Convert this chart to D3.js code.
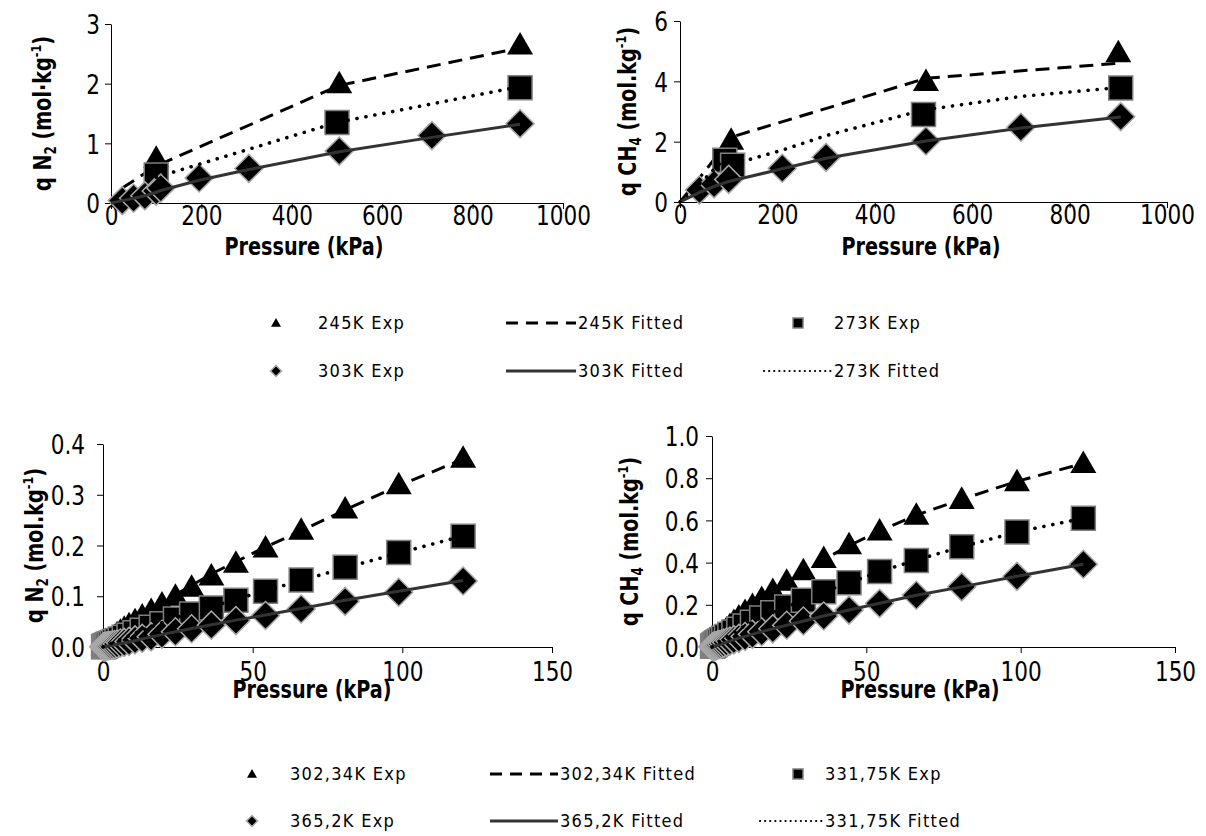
<!DOCTYPE html>
<html>
<head>
<meta charset="utf-8">
<script src="https://cdn.jsdelivr.net/npm/d3@7"></script>
<style>
  body { margin: 0; background: #fff; }
  .tick text { font-family: "DejaVu Sans", sans-serif; font-size: 27px; fill: #000; }
  .title { font-family: "DejaVu Sans", sans-serif; font-weight: bold; font-size: 24px; fill: #000; }
  .leg { font-family: "DejaVu Sans Condensed", "DejaVu Sans", sans-serif; font-size: 18px; letter-spacing: 1.3px; fill: #000; }
</style>
</head>
<body>
<div id="viz"></div>
<script>
// ---- data: top row (high pressure) ----
const n2Exp245 = [[100, 0.75], [505, 2.0], [905, 2.65]];
const n2Fit245 = [[25, 0.25], [100, 0.62], [505, 1.97], [905, 2.6]];
const n2Exp273 = [[100, 0.47], [500, 1.35], [905, 1.93]];
const n2Fit273 = [[100, 0.43], [200, 0.66], [500, 1.35], [905, 1.95]];
const n2Exp303 = [[25, 0.04], [50, 0.08], [75, 0.12], [100, 0.2], [110, 0.25], [195, 0.42], [305, 0.58], [505, 0.87], [710, 1.13], [905, 1.33]];
const n2Fit303 = [[0, 0], [25, 0.04], [50, 0.08], [75, 0.12], [100, 0.18], [110, 0.21], [195, 0.38], [305, 0.56], [505, 0.86], [710, 1.1], [905, 1.32]];

const ch4Exp245 = [[105, 2.05], [505, 4.0], [900, 4.95]];
const ch4Fit245 = [[0, 0], [55, 1.1], [105, 2.15], [505, 4.1], [900, 4.6]];
const ch4Exp273 = [[92, 1.38], [108, 1.22], [500, 2.9], [905, 3.78]];
const ch4Fit273 = [[0, 0], [50, 0.75], [92, 1.45], [108, 1.25], [210, 1.72], [300, 2.2], [500, 3.05], [700, 3.5], [905, 3.8]];
const ch4Exp303 = [[40, 0.4], [70, 0.6], [100, 0.75], [210, 1.12], [300, 1.48], [505, 2.02], [700, 2.48], [905, 2.83]];
const ch4Fit303 = [[0, 0], [40, 0.32], [70, 0.52], [100, 0.68], [210, 1.1], [300, 1.45], [505, 2.02], [700, 2.45], [905, 2.82]];

// ---- data: bottom row (low pressure) ----
const lowP = [0.2, 0.4, 0.6, 0.8, 1.0, 1.3, 1.6, 2.0, 2.5, 3.1, 3.8, 4.7, 5.8, 7.1, 8.7, 10.7, 13.1, 16.1, 19.7, 24.2, 29.6, 36.2, 44.4, 54.3, 66.2, 80.9, 98.8, 120.3];
const qN2_302 = [0.001, 0.002, 0.003, 0.004, 0.006, 0.007, 0.009, 0.011, 0.014, 0.017, 0.021, 0.026, 0.031, 0.037, 0.044, 0.052, 0.061, 0.072, 0.085, 0.100, 0.118, 0.140, 0.165, 0.195, 0.230, 0.272, 0.320, 0.372];
const qN2_331 = [0.0005, 0.001, 0.002, 0.0025, 0.003, 0.004, 0.005, 0.006, 0.007, 0.009, 0.011, 0.013, 0.016, 0.019, 0.023, 0.028, 0.033, 0.039, 0.046, 0.055, 0.065, 0.077, 0.092, 0.110, 0.132, 0.157, 0.186, 0.218];
const qN2_365 = [0.0003, 0.0005, 0.0008, 0.0011, 0.0014, 0.0018, 0.0022, 0.0027, 0.003, 0.004, 0.005, 0.006, 0.008, 0.009, 0.011, 0.014, 0.017, 0.020, 0.025, 0.030, 0.036, 0.043, 0.052, 0.062, 0.075, 0.090, 0.108, 0.130];
const qCH4_302 = [0.005, 0.010, 0.014, 0.018, 0.023, 0.028, 0.034, 0.041, 0.050, 0.060, 0.072, 0.086, 0.102, 0.121, 0.143, 0.168, 0.197, 0.230, 0.268, 0.312, 0.362, 0.420, 0.485, 0.550, 0.625, 0.700, 0.783, 0.870];
const qCH4_331 = [0.003, 0.006, 0.008, 0.010, 0.013, 0.016, 0.020, 0.024, 0.029, 0.035, 0.042, 0.050, 0.060, 0.071, 0.084, 0.099, 0.117, 0.138, 0.162, 0.190, 0.222, 0.262, 0.305, 0.358, 0.410, 0.475, 0.545, 0.610];
const qCH4_365 = [0.001, 0.002, 0.003, 0.004, 0.005, 0.006, 0.008, 0.010, 0.012, 0.015, 0.019, 0.023, 0.028, 0.034, 0.041, 0.050, 0.060, 0.072, 0.086, 0.103, 0.123, 0.147, 0.175, 0.207, 0.245, 0.285, 0.335, 0.392];

const lowFitP = [0, 8.7, 16.1, 24.2, 36.2, 44.4, 54.3, 66.2, 80.9, 98.8, 120.3];
const fitN2_302 = [0, 0.043, 0.074, 0.103, 0.144, 0.168, 0.197, 0.229, 0.270, 0.318, 0.370];
const fitN2_331 = [0, 0.022, 0.040, 0.058, 0.079, 0.094, 0.111, 0.131, 0.156, 0.185, 0.219];
const fitN2_365 = [0, 0.010, 0.020, 0.030, 0.044, 0.053, 0.063, 0.076, 0.092, 0.110, 0.131];
const fitCH4_302 = [0, 0.15, 0.23, 0.31, 0.415, 0.48, 0.55, 0.625, 0.70, 0.785, 0.87];
const fitCH4_331 = [0, 0.085, 0.14, 0.19, 0.262, 0.305, 0.357, 0.412, 0.475, 0.545, 0.61];
const fitCH4_365 = [0, 0.042, 0.073, 0.103, 0.147, 0.175, 0.207, 0.245, 0.285, 0.335, 0.392];

const xTicksHigh = [0, 200, 400, 600, 800, 1000];
const xTicksLow = [0, 50, 100, 150];

const legendTop = ["245K Exp", "245K Fitted", "273K Exp", "303K Exp", "303K Fitted", "273K Fitted"];
const legendBottom = ["302,34K Exp", "302,34K Fitted", "331,75K Exp", "365,2K Exp", "365,2K Fitted", "331,75K Fitted"];

const zip = (xs, ys) => xs.map((x, i) => [x, ys[i]]);

const svg = d3.select("#viz").append("svg")
    .attr("width", 1206)
    .attr("height", 836);

const panels = [
  {x: [111, 563], y: [203, 24], xd: [0, 1000], yd: [0, 3], xt: xTicksHigh, yt: [0, 1, 2, 3], fmt: d3.format("d"),
   gas: "N", sub: "2", dot: "·", ytx: 43, xtc: 304, xty: 255, xpad: -3, ypad: 5,
   series: [n2Exp245, n2Fit245, n2Exp273, n2Exp303, n2Fit303, n2Fit273]},
  {x: [680, 1167], y: [202, 21], xd: [0, 1000], yd: [0, 6], xt: xTicksHigh, yt: [0, 2, 4, 6], fmt: d3.format("d"),
   gas: "CH", sub: "4", dot: ".", ytx: 628, xtc: 921, xty: 255, xpad: -3, ypad: 6,
   series: [ch4Exp245, ch4Fit245, ch4Exp273, ch4Exp303, ch4Fit303, ch4Fit273]},
  {x: [103, 552], y: [647, 444], xd: [0, 150], yd: [0, 0.4], xt: xTicksLow, yt: [0, 0.1, 0.2, 0.3, 0.4], fmt: d3.format(".1f"),
   gas: "N", sub: "2", dot: ".", ytx: 35, xtc: 312, xty: 698, xpad: 9, ypad: 12,
   series: [zip(lowP, qN2_302), zip(lowFitP, fitN2_302), zip(lowP, qN2_331), zip(lowP, qN2_365), zip(lowFitP, fitN2_365), zip(lowFitP, fitN2_331)]},
  {x: [712, 1175], y: [647, 436], xd: [0, 150], yd: [0, 1], xt: xTicksLow, yt: [0, 0.2, 0.4, 0.6, 0.8, 1.0], fmt: d3.format(".1f"),
   gas: "CH", sub: "4", dot: ".", ytx: 630, xtc: 920, xty: 698, xpad: 9, ypad: 7,
   series: [zip(lowP, qCH4_302), zip(lowFitP, fitCH4_302), zip(lowP, qCH4_331), zip(lowP, qCH4_365), zip(lowFitP, fitCH4_365), zip(lowFitP, fitCH4_331)]}
];

// series kinds in legend order
const kinds = ["tri", "dash", "sq", "dia", "solid", "dot"];
const narrow = 0.8;

function marker(g, kind, px, py, s) {
  if (kind === "tri") {
    g.append("path").attr("d", d3.symbol(d3.symbolTriangle, s * s * 0.433)())
      .attr("transform", `translate(${px},${py + s * 0.08})`).attr("fill", "#000");
  } else if (kind === "sq") {
    g.append("path").attr("d", d3.symbol(d3.symbolSquare, s * s)())
      .attr("transform", `translate(${px},${py})`).attr("fill", "#000")
      .attr("stroke", "#808080").attr("stroke-width", 1.5);
  } else {
    g.append("path").attr("d", d3.symbol(d3.symbolSquare, s * s * 0.5)())
      .attr("transform", `translate(${px},${py}) rotate(45)`).attr("fill", "#000")
      .attr("stroke", "#a8a8a8").attr("stroke-width", 1.5);
  }
}

function lineStyle(sel, kind) {
  sel.attr("fill", "none").attr("stroke", kind === "solid" ? "#333" : "#000");
  if (kind === "dash") sel.attr("stroke-width", 3).attr("stroke-dasharray", "14,8");
  if (kind === "solid") sel.attr("stroke-width", 3);
  if (kind === "dot") sel.attr("stroke-width", 3.6).attr("stroke-linecap", "round").attr("stroke-dasharray", "0.1,9");
  return sel;
}

panels.forEach(p => {
  const xScale = d3.scaleLinear().domain(p.xd).range(p.x);
  const yScale = d3.scaleLinear().domain(p.yd).range(p.y);

  const xAxis = d3.axisBottom(xScale).tickValues(p.xt).tickFormat(d3.format("d"))
    .tickSize(6).tickSizeOuter(0).tickPadding(p.xpad);
  const yAxis = d3.axisLeft(yScale).tickValues(p.yt).tickFormat(p.fmt)
    .tickSize(6).tickSizeOuter(0).tickPadding(p.ypad);

  svg.append("g").attr("transform", `translate(0,${p.y[0]})`).call(xAxis)
    .call(g => g.select(".domain").attr("stroke", "#000"))
    .call(g => g.selectAll(".tick text").attr("transform", `scale(${narrow},1)`));
  svg.append("g").attr("transform", `translate(${p.x[0]},0)`).call(yAxis)
    .call(g => g.selectAll(".tick text")
      .attr("dy", "0.36em")
      .attr("x", -(6 + p.ypad) / narrow)
      .attr("transform", `scale(${narrow},1)`));

  const line = d3.line().x(d => xScale(d[0])).y(d => yScale(d[1]));
  const g = svg.append("g");
  p.series.forEach((data, i) => {
    const kind = kinds[i];
    if (kind === "tri" || kind === "sq" || kind === "dia") {
      const s = kind === "dia" ? 28 : kind === "tri" ? 26 : 24;
      data.forEach(d => marker(g, kind, xScale(d[0]), yScale(d[1]), s));
    } else {
      lineStyle(g.append("path").datum(data).attr("d", line), kind);
    }
  });

  svg.append("text").attr("class", "title")
    .attr("transform", `translate(${p.xtc},${p.xty}) scale(0.8,1)`)
    .attr("text-anchor", "middle").text("Pressure (kPa)");

  const yc = (p.y[0] + p.y[1]) / 2;
  const t = svg.append("text").attr("class", "title")
    .attr("transform", `translate(${p.ytx},${yc}) rotate(-90) scale(0.8,1)`)
    .attr("text-anchor", "middle").attr("dy", "0.35em");
  t.append("tspan").text("q " + p.gas);
  t.append("tspan").attr("font-size", "15px").attr("dy", "5").text(p.sub);
  t.append("tspan").attr("dy", "-5").text(" (mol" + p.dot + "kg");
  t.append("tspan").attr("font-size", "14px").attr("dy", "-10").text("-1");
  t.append("tspan").attr("dy", "10").text(")");
});

// legends
function legend(labels, ys, cols) {
  const g = svg.append("g");
  labels.forEach((lab, i) => {
    const kind = kinds[i];
    const row = Math.floor(i / 3), col = i % 3;
    const y = ys[row];
    const c = cols[col];
    if (kind === "tri" || kind === "sq" || kind === "dia") {
      marker(g, kind, c.m, y, kind === "dia" ? 11 : 10);
      g.append("text").attr("class", "leg").attr("x", c.t).attr("y", y).attr("dy", "0.36em").text(lab);
    } else {
      const l = g.append("line").attr("x1", c.l0).attr("x2", c.l1).attr("y1", y).attr("y2", y);
      lineStyle(l, kind);
      if (kind === "dot") l.attr("stroke-width", 2.2).attr("stroke-dasharray", "0.1,5");
      if (kind === "dash") l.attr("stroke-dasharray", "12,8");
      g.append("text").attr("class", "leg").attr("x", c.l1 + 2).attr("y", y).attr("dy", "0.36em").text(lab);
    }
  });
}

legend(legendTop, [323, 371], [
  {m: 276, t: 318, l0: 506, l1: 576},
  {m: 276, t: 318, l0: 506, l1: 576},
  {m: 798, t: 834, l0: 764, l1: 832}
]);

legend(legendBottom, [774, 821], [
  {m: 252, t: 290, l0: 490, l1: 558},
  {m: 252, t: 290, l0: 490, l1: 558},
  {m: 798, t: 825, l0: 760, l1: 823}
]);
</script>
</body>
</html>
